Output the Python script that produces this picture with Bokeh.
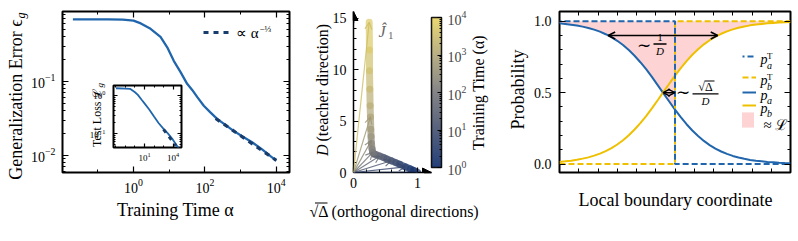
import numpy as np
from bokeh.plotting import figure
from bokeh.layouts import row, column
from bokeh.models import (FixedTicker, LogTickFormatter, PrintfTickFormatter, Label, LogAxis, LinearAxis,
                          Range1d, Legend, LegendItem, ColorBar, LogColorMapper, Arrow, OpenHead,
                          NormalHead, ColumnDataSource, BoxAnnotation)
from bokeh.embed import file_html
from bokeh.resources import INLINE

FONT = "Liberation Serif"
BLUE = "#2166ac"
NAVY = "#183c6b"
YELLOW = "#efc000"
PINK = "#fdd3d3"

# ---------------- data: panel 1 ----------------
train_time = [0.02, 0.05, 0.1, 0.2, 0.5, 1, 1.6, 3, 5.7, 8.8, 13.4, 20.8, 31.8, 44, 62, 93, 140,
              220, 350, 580, 1100, 2100, 4000, 7000, 10000]
gen_error = [0.69, 0.69, 0.69, 0.689, 0.684, 0.665, 0.61, 0.515, 0.40, 0.29, 0.19, 0.134, 0.093,
             0.077, 0.061, 0.047, 0.0385, 0.0313, 0.0265, 0.0222, 0.0182, 0.0151, 0.0121, 0.0097, 0.0085]
fit_time = [200, 10000]
fit_error = [0.0316, 0.0086]
inset_time = [0.01, 0.1, 0.3, 1, 2, 5, 10, 30, 100, 300, 1000, 3000, 10000, 30000, 50000]
inset_loss = [1.55, 1.52, 1.50, 1.22, 1.04, 0.77, 0.62, 0.436, 0.28, 0.189, 0.132, 0.099, 0.068, 0.045, 0.038]
inset_fit_time = [1000, 20000]
inset_fit_loss = [0.128, 0.048]

# ---------------- data: panel 2 ----------------
traj_time = [1, 1.5, 2, 3, 5, 7, 10, 15, 20, 30, 50, 70, 100, 150, 250, 400, 600, 1000, 1500,
             2500, 4000, 6000, 10000]
traj_sqrt_delta = [1.00, 0.94, 0.89, 0.81, 0.72, 0.66, 0.59, 0.52, 0.47, 0.41, 0.35, 0.32, 0.30,
                   0.29, 0.28, 0.275, 0.27, 0.265, 0.26, 0.255, 0.25, 0.25, 0.245]
traj_D = [0.03, 0.20, 0.34, 0.55, 0.80, 0.96, 1.14, 1.32, 1.45, 1.60, 1.74, 1.83, 1.95, 2.3, 2.85,
          3.5, 4.2, 5.4, 6.5, 8.1, 9.9, 11.9, 14.6]
arrow_time = [1, 3, 10, 30, 100, 300, 1000, 10000]
arrow_sqrt_delta = [1.0, 0.81, 0.59, 0.41, 0.30, 0.278, 0.265, 0.245]
arrow_D = [0.03, 0.55, 1.14, 1.60, 1.95, 3.1, 5.4, 14.6]

# ---------------- data: panel 3 ----------------
coord = [-1.00, -0.95, -0.90, -0.85, -0.80, -0.75, -0.70, -0.65, -0.60, -0.55, -0.50, -0.45, -0.40,
         -0.35, -0.30, -0.25, -0.20, -0.15, -0.10, -0.05, 0.00, 0.05, 0.10, 0.15, 0.20, 0.25, 0.30,
         0.35, 0.40, 0.45, 0.50, 0.55, 0.60, 0.65, 0.70, 0.75, 0.80, 0.85, 0.90, 0.95, 1.00]
p_a = [0.985, 0.981, 0.976, 0.970, 0.962, 0.953, 0.941, 0.927, 0.909, 0.888, 0.863, 0.833, 0.798,
       0.758, 0.713, 0.664, 0.610, 0.553, 0.495, 0.438, 0.381, 0.328, 0.279, 0.235, 0.196, 0.162,
       0.133, 0.108, 0.088, 0.071, 0.057, 0.046, 0.037, 0.029, 0.023, 0.019, 0.015, 0.012, 0.009,
       0.007, 0.006]
p_b = [0.015, 0.019, 0.024, 0.030, 0.038, 0.047, 0.059, 0.073, 0.091, 0.112, 0.137, 0.167, 0.202,
       0.242, 0.287, 0.336, 0.390, 0.447, 0.505, 0.562, 0.619, 0.672, 0.721, 0.765, 0.804, 0.838,
       0.867, 0.892, 0.912, 0.929, 0.943, 0.954, 0.963, 0.971, 0.977, 0.981, 0.985, 0.988, 0.991,
       0.993, 0.994]
step_x = [-1.0, 0.0, 0.0, 1.0]
p_a_T = [1, 1, 0, 0]
p_b_T = [0, 0, 1, 1]

# ---------------- overlay figure for the free texts (page coordinates, y downwards) ----------------
ov = figure(width=798, height=241, x_range=Range1d(0, 798), y_range=Range1d(241, 0),
            output_backend="svg", toolbar_location=None, title=None,
            min_border_left=0, min_border_right=0, min_border_top=0, min_border_bottom=0,
            x_axis_location=None, y_axis_location=None)
ov.grid.visible = False
ov.outline_line_color = None
ov.background_fill_alpha = 0
ov.border_fill_alpha = 0


def page_label(X, Y, s, size, italic=False, align="left", angle=0.0, color="black"):
    # (X, Y): anchor in page pixels; the text is vertically centred on Y
    ov.add_layout(Label(x=X, y=Y, text=s, angle=angle,
                        text_font=FONT, text_font_size=f"{size}px",
                        text_font_style="italic" if italic else "normal",
                        text_align=align, text_baseline="middle", text_color=color))


def page_bar(X0, X1, Y, w=1.3):
    ov.add_layout(BoxAnnotation(left=X0, right=X1, bottom=Y + w / 2, top=Y - w / 2,
                                fill_color="black", fill_alpha=1, line_color=None))


def style_axis(ax, ticker, size="14px", label=True, major_in=6, minor_in=3, standoff=6, line=False):
    ax.ticker = ticker
    if not line:
        ax.axis_line_color = None
    else:
        ax.axis_line_color = "black"
        ax.axis_line_width = 1.5
    ax.major_tick_in = major_in
    ax.major_tick_out = 0
    ax.minor_tick_in = minor_in
    ax.minor_tick_out = 0
    ax.major_tick_line_color = "black"
    ax.minor_tick_line_color = "black"
    ax.major_tick_line_width = 1.2
    ax.minor_tick_line_width = 1
    ax.major_label_text_font = FONT
    ax.major_label_text_color = "black"
    if label:
        ax.major_label_text_font_size = size
        ax.major_label_standoff = standoff
    else:
        ax.major_label_text_font_size = "0px"
        ax.major_label_text_alpha = 0
        ax.major_label_standoff = 0
    ax.axis_label = None


def log_minors(lo, hi):
    return [k * 10.0 ** e for e in range(lo, hi) for k in range(2, 10)]


def interp_palette(stops, n=256):
    rgb = np.array([[int(s[i:i + 2], 16) for i in (1, 3, 5)] for s in stops], float)
    t = np.linspace(0, 1, len(stops))
    tt = np.linspace(0, 1, n)
    cols = np.stack([np.interp(tt, t, rgb[:, k]) for k in range(3)], 1)
    return ["#%02x%02x%02x" % tuple(int(round(v)) for v in c) for c in cols]


# ================= Panel 1 =================
p1 = figure(width=300, height=241, x_axis_type="log", y_axis_type="log",
            x_range=Range1d(10 ** -1.99, 10 ** 4.37), y_range=Range1d(10 ** -2.23, 10 ** -0.054),
            output_backend="svg", toolbar_location=None, title=None,
            min_border_left=62, min_border_right=11, min_border_top=11, min_border_bottom=69)
p1.outline_line_color = "black"
p1.outline_line_width = 2
p1.grid.visible = False

p1.line(train_time, gen_error, line_color=BLUE, line_width=2.3)
fit_r = p1.line(fit_time, fit_error, line_color=NAVY, line_width=3.2, line_dash="5 5")

xt1 = FixedTicker(ticks=[1, 100, 10000], minor_ticks=[0.01, 0.1, 10, 1000])
yt1 = FixedTicker(ticks=[0.001, 0.01, 0.1, 1], minor_ticks=log_minors(-3, 0))
style_axis(p1.xaxis[0], xt1, standoff=6)
style_axis(p1.yaxis[0], yt1, standoff=7)
p1.xaxis[0].formatter = LogTickFormatter()
p1.yaxis[0].formatter = LogTickFormatter()
ax = LogAxis()
p1.add_layout(ax, "above")
style_axis(ax, xt1, label=False)
ax = LogAxis()
p1.add_layout(ax, "right")
style_axis(ax, yt1, label=False)

leg1 = Legend(items=[LegendItem(label=" ", renderers=[fit_r])], location=(141, 135),
              glyph_width=27, glyph_height=10, label_height=10, label_text_font_size="6px",
              padding=0, margin=0, spacing=0, border_line_color=None, background_fill_alpha=0,
              label_standoff=0, label_width=2)
p1.add_layout(leg1)
page_label(258, 32, "\u221d \u03b1", 15, align="right")
page_label(259, 28, "\u2212\u2153", 9, align="left")

page_label(15, 19, "Generalization Error \u03f5", 18, align="right", angle=np.pi / 2)
page_label(20, 18, "g", 12, italic=True, align="left", angle=np.pi / 2)
page_label(175, 209, "Training Time \u03b1", 18, align="center")

# ----- inset -----
inset = figure(width=103, height=93, x_axis_type="log", y_axis_type="log",
               x_range=Range1d(10 ** -2.26, 10 ** 4.89), y_range=Range1d(10 ** -1.368, 10 ** 0.263),
               output_backend="svg", toolbar_location=None, title=None,
               min_border_left=29, min_border_right=6, min_border_top=7, min_border_bottom=24)
inset.outline_line_color = "black"
inset.outline_line_width = 2
inset.grid.visible = False
inset.border_fill_alpha = 0
inset.line(inset_time, inset_loss, line_color=BLUE, line_width=1.8)
inset.line(inset_fit_time, inset_fit_loss, line_color=NAVY, line_width=3, line_dash="4 5")
ixt = FixedTicker(ticks=[10, 10000], minor_ticks=[0.01, 0.1, 1, 100, 1000, 100000])
iyt = FixedTicker(ticks=[0.1, 1], minor_ticks=log_minors(-2, 1))
style_axis(inset.xaxis[0], ixt, size="9px", major_in=4, minor_in=2, standoff=5)
style_axis(inset.yaxis[0], iyt, size="9px", major_in=4, minor_in=2, standoff=8)
ax = LogAxis()
inset.add_layout(ax, "above")
style_axis(ax, ixt, label=False, major_in=4, minor_in=2)
ax = LogAxis()
inset.add_layout(ax, "right")
style_axis(ax, iyt, label=False, major_in=4, minor_in=2)
page_label(96, 88, "Test Loss \u2112", 12, align="right", angle=np.pi / 2)
page_label(99, 87, "g", 9, italic=True, align="left", angle=np.pi / 2)

# ================= Panel 2 =================
p2 = figure(width=205, height=241, x_range=Range1d(0, 1.219), y_range=Range1d(0, 15.65),
            output_backend="svg", toolbar_location=None, title=None,
            min_border_left=53, min_border_right=74, min_border_top=10, min_border_bottom=69)
p2.outline_line_color = None
p2.grid.visible = False

pal = interp_palette(["#0d2c6c", "#44506e", "#77777a", "#b0a679", "#e8d463"])
mapper = LogColorMapper(palette=pal, low=1, high=1e4)

seg_src = ColumnDataSource(dict(x0=traj_sqrt_delta[:-1], y0=traj_D[:-1], x1=traj_sqrt_delta[1:],
                                y1=traj_D[1:], t=traj_time[:-1]))
p2.segment("x0", "y0", "x1", "y1", source=seg_src, line_color={"field": "t", "transform": mapper},
           line_width=7, line_alpha=0.7, line_cap="round")

for t, xe, ye in zip(arrow_time, arrow_sqrt_delta, arrow_D):
    idx = int(round(np.log10(t) / 4 * 255))
    c = pal[idx]
    rgb = [int(int(c[i:i + 2], 16) * 0.8 + 20) for i in (1, 3, 5)]
    col = "#%02x%02x%02x" % tuple(min(255, v) for v in rgb)
    p2.add_layout(Arrow(x_start=0, y_start=0, x_end=xe, y_end=ye, line_color=col, line_width=1.2,
                        line_alpha=0.8,
                        end=OpenHead(size=7, line_color=col, line_width=1.2, line_alpha=0.8)))

xt2 = FixedTicker(ticks=[0, 1], minor_ticks=[0.2, 0.4, 0.6, 0.8])
yt2 = FixedTicker(ticks=[0, 5, 10, 15], minor_ticks=list(range(0, 16)))
style_axis(p2.xaxis[0], xt2, major_in=5, minor_in=3, standoff=5, line=True)
style_axis(p2.yaxis[0], yt2, major_in=5, minor_in=3, standoff=7, line=True)
p2.add_layout(Arrow(x_start=1.1, y_start=0, x_end=1.219, y_end=0, line_color="black", line_width=1.5,
                    end=NormalHead(size=9, fill_color="black", line_color="black")))
p2.add_layout(Arrow(x_start=0, y_start=14.5, x_end=0, y_end=15.65, line_color="black", line_width=1.5,
                    end=NormalHead(size=9, fill_color="black", line_color="black")))

cb = ColorBar(color_mapper=mapper, width=10, height=150, location=(0, 5), padding=0, margin=0,
              ticker=FixedTicker(ticks=[1, 10, 100, 1000, 10000], minor_ticks=log_minors(0, 4)),
              formatter=LogTickFormatter(), major_label_text_font=FONT,
              major_label_text_font_size="14px", major_tick_line_color="black", major_tick_in=4,
              major_tick_out=0, minor_tick_line_color="black", minor_tick_in=2, minor_tick_out=0,
              bar_line_color="black", bar_line_width=1.5, border_line_color=None,
              background_fill_alpha=0, label_standoff=6, scale_alpha=0.9)
p2.add_layout(cb, "right")

page_label(378, 31, "\u0134", 16, italic=True, align="left", color="#666666")
page_label(387.5, 35, "1", 11, align="left", color="#666666")
page_label(322, 141, "(teacher direction)", 16, align="left", angle=np.pi / 2)
page_label(322, 144, "D", 16, italic=True, align="right", angle=np.pi / 2)
page_label(394, 211, "\u221a\u0394 (orthogonal directions)", 16, align="center")
page_bar(314.5, 327, 202.5, w=1.0)
page_label(478, 92, "Training Time (\u03b1)", 16, align="center", angle=np.pi / 2)

# ================= Panel 3 =================
p3 = figure(width=293, height=241, x_range=Range1d(-1, 1), y_range=Range1d(-0.059, 1.068),
            output_backend="svg", toolbar_location=None, title=None,
            min_border_left=54, min_border_right=8, min_border_top=5, min_border_bottom=65)
p3.outline_line_color = "black"
p3.outline_line_width = 2
p3.grid.visible = False

cx = np.array(coord)
pa = np.array(p_a)
pb = np.array(p_b)
left = cx <= 0
right = cx >= 0
fill_r = p3.varea(x=cx[left], y1=pa[left], y2=np.full(left.sum(), float(p_a_T[0])),
                  fill_color=PINK, fill_alpha=1)
p3.varea(x=cx[right], y1=pb[right], y2=np.full(right.sum(), float(p_b_T[-1])), fill_color=PINK,
         fill_alpha=1)
pa_r = p3.line(coord, p_a, line_color=BLUE, line_width=2)
pb_r = p3.line(coord, p_b, line_color=YELLOW, line_width=2)
pbT_r = p3.line(step_x, p_b_T, line_color=YELLOW, line_width=2, line_dash="6 3")
paT_r = p3.line(step_x, p_a_T, line_color=BLUE, line_width=2, line_dash="6 3", line_dash_offset=4)

x_lo = float(np.interp(0.9, pa[::-1], cx[::-1]))
x_hi = float(np.interp(0.9, pb, cx))
x_cross = float(np.interp(0.5, pa[::-1], cx[::-1]))
x_bound = step_x[1]
for (xs, ys, xe, ye) in [(x_lo, 0.9, x_hi, 0.9), (x_cross, 0.5, x_bound, 0.5)]:
    p3.add_layout(Arrow(x_start=xs, y_start=ys, x_end=xe, y_end=ye, line_color="black", line_width=1.5,
                        start=OpenHead(size=7, line_color="black", line_width=1.5),
                        end=OpenHead(size=7, line_color="black", line_width=1.5)))

yt3 = FixedTicker(ticks=[0, 0.5, 1.0], minor_ticks=[0.1 * k for k in range(11)])
xt3 = FixedTicker(ticks=[], minor_ticks=[k / 6 for k in range(-5, 6)])
style_axis(p3.yaxis[0], yt3, standoff=8)
p3.yaxis[0].formatter = PrintfTickFormatter(format="%.1f")
style_axis(p3.xaxis[0], xt3, label=False, minor_in=4)
ax = LinearAxis()
p3.add_layout(ax, "right")
style_axis(ax, yt3, label=False)
ax = LinearAxis()
p3.add_layout(ax, "above")
style_axis(ax, xt3, label=False, minor_in=4)

common = dict(padding=0, margin=0, border_line_color=None, background_fill_alpha=0,
              label_text_font_size="6px", label_standoff=0, label_width=2)
p3.add_layout(Legend(items=[LegendItem(label=" ", renderers=[paT_r]),
                            LegendItem(label=" ", renderers=[pbT_r])],
                     location=(183, 89), glyph_width=14, glyph_height=12, label_height=12, spacing=9,
                     **common))
p3.add_layout(Legend(items=[LegendItem(label=" ", renderers=[pa_r]),
                            LegendItem(label=" ", renderers=[pb_r])],
                     location=(183, 61.5), glyph_width=14, glyph_height=12, label_height=12, spacing=1,
                     **common))
p3.add_layout(Legend(items=[LegendItem(label=" ", renderers=[fill_r])],
                     location=(181, 43.5), glyph_width=15, glyph_height=19, label_height=19, spacing=0,
                     **common))
for (yb, sub, sup) in [(64, "a", True), (85, "b", True), (99.5, "a", False), (112.5, "b", False)]:
    page_label(760, yb - 5, "p", 14, italic=True)
    page_label(766.5, yb + 0.5, sub, 10, italic=True)
    if sup:
        page_label(766.5, yb - 9, "T", 9)
page_label(763, 124, "\u2248 \u2112", 15)

# annotations ~ 1/D  and ~ sqrt(Delta)/D
page_label(643, 45, "\u223c", 17, align="center")
page_label(659.5, 36.5, "1", 11, align="center")
page_bar(653, 666, 43.5)
page_label(659.5, 50.5, "D", 11, italic=True, align="center")
page_label(682, 92, "\u223c", 17, align="center")
page_label(705, 86, "\u221a\u0394", 12, align="center")
page_bar(704, 714, 80.5, w=1.0)
page_bar(692, 718, 93.3)
page_label(705, 100.5, "D", 11, italic=True, align="center")

page_label(517, 89, "Probability", 18, align="center", angle=np.pi / 2)
page_label(675, 199, "Local boundary coordinate", 18, align="center")

inset_box = row(inset, styles={"position": "absolute", "left": "84px", "top": "78px"})
overlay_box = row(ov, styles={"position": "absolute", "left": "0px", "top": "0px"})
layout = column(row(p1, p2, p3), inset_box, overlay_box)
open("out.html", "w").write(file_html(layout, INLINE))
